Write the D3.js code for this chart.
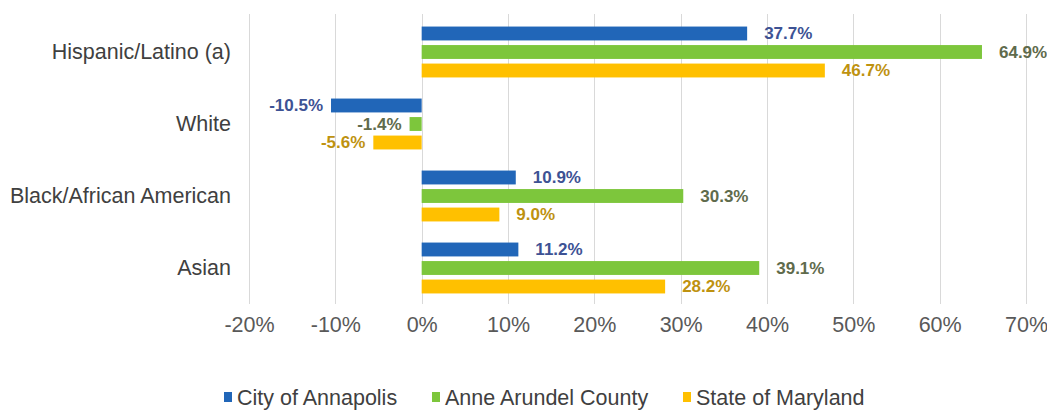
<!DOCTYPE html>
<html>
<head>
<meta charset="utf-8">
<script src="https://cdn.jsdelivr.net/npm/d3@7"></script>
<style>
  html, body { margin: 0; padding: 0; background: #fff; }
  svg { display: block; font-family: "Liberation Sans", Arial, sans-serif; }
</style>
</head>
<body>
<svg id="chart" width="1047" height="410"></svg>
<script>
const categories = ["Hispanic/Latino (a)", "White", "Black/African American", "Asian"];
const series = ["City of Annapolis", "Anne Arundel County", "State of Maryland"];
const annapolis = [37.7, -10.5, 10.9, 11.2];
const anneArundel = [64.9, -1.4, 30.3, 39.1];
const maryland = [46.7, -5.6, 9.0, 28.2];
const tickValues = [-20, -10, 0, 10, 20, 30, 40, 50, 60, 70];

const seriesValues = [annapolis, anneArundel, maryland];
const barColors = ["#2166B8", "#7DC63C", "#FFC000"];
const labelColors = ["#3D5294", "#5F6B4C", "#BE9210"];

const svg = d3.select("#chart");

const x = d3.scaleLinear().domain([-20, 70]).range([249, 1026]);
const y = d3.scaleBand().domain(categories).range([16, 304]).paddingInner(0).paddingOuter(0);
const ySub = d3.scaleBand().domain(series).range([0, y.bandwidth()]).paddingInner(0.25).paddingOuter(0.57);

// gridlines
svg.append("g")
  .selectAll("line")
  .data(tickValues)
  .join("line")
  .attr("x1", d => Math.round(x(d)) + 0.5)
  .attr("x2", d => Math.round(x(d)) + 0.5)
  .attr("y1", 14)
  .attr("y2", 304)
  .attr("stroke", "#d9d9d9")
  .attr("stroke-width", 1);

// x axis tick labels
const xAxis = d3.axisBottom(x).tickValues(tickValues).tickSize(0).tickPadding(0).tickFormat(d => d + "%");
const gx = svg.append("g").attr("transform", "translate(0,317)").call(xAxis);
gx.select(".domain").remove();
gx.selectAll("text")
  .attr("font-size", 21.5)
  .attr("font-family", "Liberation Sans, Arial, sans-serif")
  .attr("fill", "#595959")
  .attr("dy", "0.71em")
  .attr("y", 0);

// category labels
const yAxis = d3.axisLeft(y).tickSize(0).tickPadding(0);
const gy = svg.append("g").attr("transform", "translate(231,0)").call(yAxis);
gy.select(".domain").remove();
gy.selectAll("text")
  .attr("font-size", 21.5)
  .attr("font-family", "Liberation Sans, Arial, sans-serif")
  .attr("fill", "#404040");

// bars
const rows = [];
categories.forEach((c, i) => {
  series.forEach((s, j) => {
    rows.push({ cat: c, ser: s, j: j, v: seriesValues[j][i] });
  });
});

svg.append("g")
  .selectAll("rect")
  .data(rows)
  .join("rect")
  .attr("x", d => Math.min(x(0), x(d.v)))
  .attr("width", d => Math.abs(x(d.v) - x(0)))
  .attr("y", d => y(d.cat) + ySub(d.ser))
  .attr("height", ySub.bandwidth())
  .attr("fill", d => barColors[d.j]);

// data labels
svg.append("g")
  .selectAll("text")
  .data(rows)
  .join("text")
  .attr("x", d => d.v >= 0 ? x(d.v) + 17 : x(d.v) - 8)
  .attr("y", d => y(d.cat) + ySub(d.ser) + ySub.bandwidth() / 2)
  .attr("dy", "0.35em")
  .attr("text-anchor", d => d.v >= 0 ? "start" : "end")
  .attr("font-size", 17)
  .attr("font-weight", "bold")
  .attr("fill", d => labelColors[d.j])
  .text(d => d.v.toFixed(1) + "%");

// legend
const legendX = [224, 432, 683];
const lg = svg.append("g");
series.forEach((s, j) => {
  lg.append("rect")
    .attr("x", legendX[j])
    .attr("y", 392)
    .attr("width", 8)
    .attr("height", 10)
    .attr("fill", barColors[j]);
  lg.append("text")
    .attr("x", legendX[j] + 13)
    .attr("y", 397)
    .attr("dy", "0.35em")
    .attr("font-size", 21.5)
    .attr("fill", "#404040")
    .text(s);
});
</script>
</body>
</html>
